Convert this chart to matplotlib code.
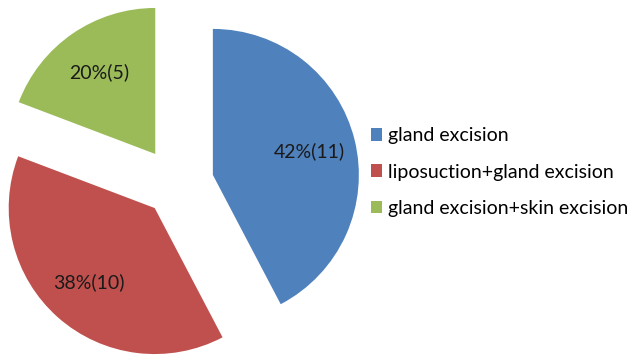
import matplotlib.pyplot as plt

labels = ['gland excision', 'liposuction+gland excision', 'gland excision+skin excision']
counts = [11, 10, 5]
pcts = [42, 38, 20]
colors = ['#4F81BD', '#C0504D', '#9BBB59']
explode = [0.26, 0.22, 0.25]

plt.rcParams['font.family'] = ['Lato', 'DejaVu Sans']

fig = plt.figure(figsize=(6.29, 3.56), dpi=100)
# pie axes: 146 px per unit, centre at (176, 172) px from bottom-left
ax = fig.add_axes([0, 0, 360 / 629, 1])

texts = iter(['%d%%(%d)' % (p, c) for p, c in zip(pcts, counts)])
wedges, _, autotexts = ax.pie(counts, colors=colors, explode=explode,
                              startangle=90, counterclock=False,
                              autopct=lambda p: next(texts), pctdistance=0.68,
                              textprops={'fontsize': 14, 'color': '#1a1a1a'})
ax.set_aspect('auto')
ax.set_xlim(-176 / 146, (360 - 176) / 146)
ax.set_ylim(-172 / 146, (356 - 172) / 146)

fig.legend(wedges, labels, loc='center left', bbox_to_anchor=(353 / 629, 1 - 172 / 356),
           frameon=False, fontsize=14, handlelength=0.6, handleheight=0.6,
           handletextpad=0.3, labelspacing=0.98)

fig.savefig('out.png', dpi=100)
